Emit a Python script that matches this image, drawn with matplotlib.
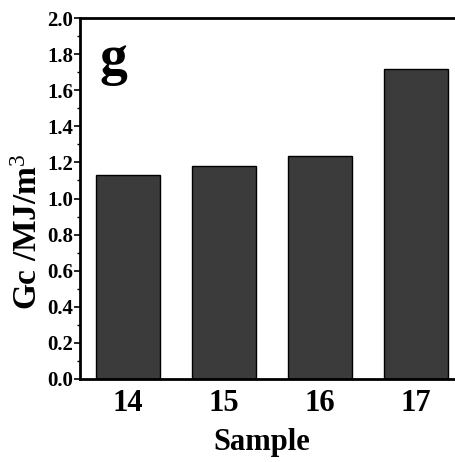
import matplotlib.pyplot as plt
from matplotlib.ticker import MultipleLocator

samples = ["14", "15", "16", "17"]
gc = [1.13, 1.18, 1.235, 1.72]

plt.rcParams['font.family'] = ['Liberation Serif', 'DejaVu Serif']
plt.rcParams['font.weight'] = 'bold'
plt.rcParams['mathtext.fontset'] = 'custom'
plt.rcParams['mathtext.rm'] = 'Liberation Serif:weight=normal'
plt.rcParams['mathtext.it'] = 'Liberation Serif:italic'
plt.rcParams['mathtext.bf'] = 'Liberation Serif:bold'

fig = plt.figure(figsize=(4.56, 4.62), dpi=100)
ax = fig.add_axes([80/456, 1 - 379/462, 384/456, 361/462])

x = range(len(samples))
ax.bar(x, gc, width=0.66, color='#3b3b3b', edgecolor='black', linewidth=1)

ax.set_xlim(-0.5, 3.5)
ax.set_ylim(0, 2.0)
ax.set_xticks(list(x))
ax.set_xticklabels(samples, fontsize=22, fontweight='bold')
ax.yaxis.set_minor_locator(MultipleLocator(0.1))
ax.set_yticks([i / 10 for i in range(0, 21, 2)])
ax.set_yticklabels(["%.1f" % (i / 10) for i in range(0, 21, 2)], fontsize=15, fontweight='bold')
ax.tick_params(axis='x', length=0, pad=7)
ax.tick_params(axis='y', which='major', length=4, width=1.2, direction='out', pad=1)
ax.tick_params(axis='y', which='minor', length=2, width=1, direction='out')

for s in ax.spines.values():
    s.set_linewidth(2)

ax.set_xlabel("Sample", fontsize=22, fontweight='bold')
ax.xaxis.set_label_coords((262 - 80) / 384, -0.135)
ax.set_ylabel("Gc /MJ/m$\\mathrm{^{3}}$", fontsize=24, fontweight='bold')
ax.yaxis.set_label_coords(-0.095, 0.407)
ax.text(0.05, 0.955, "g", transform=ax.transAxes, fontsize=40, fontweight='bold', va='top')

fig.savefig("out.png", dpi=100)
